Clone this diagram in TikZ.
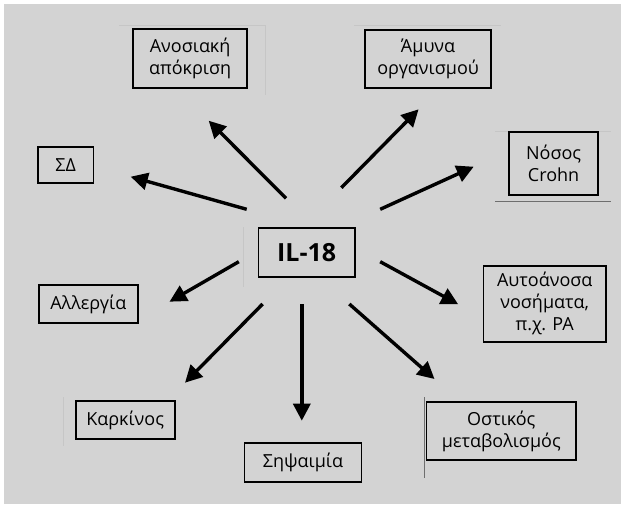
\documentclass[tikz,border=0pt]{standalone}
\usepackage{fontspec}
\setmainfont{Open Sans}
\usetikzlibrary{arrows.meta}
\definecolor{bggray}{HTML}{D3D3D3}
\definecolor{faint}{HTML}{C6C6C6}
\definecolor{darkline}{HTML}{6E6E6E}
\tikzset{
  box/.style={draw=black, line width=1.8pt, align=center, inner sep=0pt,
    font=\fontsize{18}{22}\selectfont},
  arr/.style={line width=3.4pt, -{Triangle[length=17pt,width=17pt]}},
  scanline/.style={line width=0.8pt, draw=faint},
}
\begin{document}
\begin{tikzpicture}[x=1pt,y=-1pt]
\useasboundingbox (0,0) rectangle (621,504);
\fill[white] (0,0) rectangle (621,504);
\fill[bggray] (4,4) rectangle (621,504);

% faint scan lines
\draw[scanline] (119,25) -- (265,25) -- (265,95);
\draw[scanline] (354,25) -- (501,25);
\draw[scanline] (495,131.7) -- (611,131.7);
\draw[scanline, draw=darkline] (495,201) -- (611,201);
\draw[scanline] (243,227) -- (243,287);
\draw[scanline] (63.4,397) -- (63.4,446);
\draw[scanline, draw=darkline] (424.6,397) -- (424.6,478);

% nodes
\node[box, minimum width=114pt, minimum height=59pt] (anos) at (190.1,58.3) {Ανοσιακή\\απόκριση};
\node[box, minimum width=126pt, minimum height=58pt] (amyna) at (428.1,59) {Άμυνα\\οργανισμού};
\node[box, minimum width=89.5pt, minimum height=63pt] (crohn) at (553.6,163.3) {Νόσος\\Crohn};
\node[box, minimum width=55.5pt, minimum height=36pt] (sd) at (65.7,165.3) {ΣΔ};
\node[box, minimum width=96.3pt, minimum height=48.4pt, font=\fontsize{25}{29}\selectfont\bfseries] (il) at (306.7,252.5) {IL-18};
\node[box, minimum width=99pt, minimum height=38.3pt] (allerg) at (88.3,304.2) {Αλλεργία};
\node[box, minimum width=122.3pt, minimum height=75.7pt] (auto) at (544.7,303.8) {Αυτοάνοσα\\νοσήματα,\\π.χ. ΡΑ};
\node[box, minimum width=99pt, minimum height=38.6pt] (kark) at (125.1,420) {Καρκίνος};
\node[box, minimum width=117pt, minimum height=38.4pt] (seps) at (303,462.5) {Σηψαιμία};
\node[box, minimum width=149.7pt, minimum height=58pt] (ost) at (501.3,431.3) {Οστικός\\μεταβολισμός};

% arrow end points
\coordinate (sAnos) at (286,198.3);  \coordinate (tAnos) at (208.7,120.7);
\coordinate (sAmyna) at (341.4,187.7); \coordinate (tAmyna) at (418.6,109.3);
\coordinate (sCrohn) at (380.2,209.3); \coordinate (tCrohn) at (473.7,166.7);
\coordinate (sSd) at (246.7,209.3);   \coordinate (tSd) at (130.7,176.7);
\coordinate (sAll) at (238.8,261.7);  \coordinate (tAll) at (169.5,301.7);
\coordinate (sAuto) at (380.2,261.7); \coordinate (tAuto) at (458.2,304.3);
\coordinate (sKark) at (262.6,304);   \coordinate (tKark) at (185,382.7);
\coordinate (sSeps) at (301.8,304);   \coordinate (tSeps) at (301.8,420.7);
\coordinate (sOst) at (349.3,304);    \coordinate (tOst) at (434.5,379);

\draw[arr] (sAnos) -- (tAnos);
\draw[arr] (sAmyna) -- (tAmyna);
\draw[arr] (sCrohn) -- (tCrohn);
\draw[arr] (sSd) -- (tSd);
\draw[arr] (sAll) -- (tAll);
\draw[arr] (sAuto) -- (tAuto);
\draw[arr] (sKark) -- (tKark);
\draw[arr] (sSeps) -- (tSeps);
\draw[arr] (sOst) -- (tOst);
\end{tikzpicture}
\end{document}
